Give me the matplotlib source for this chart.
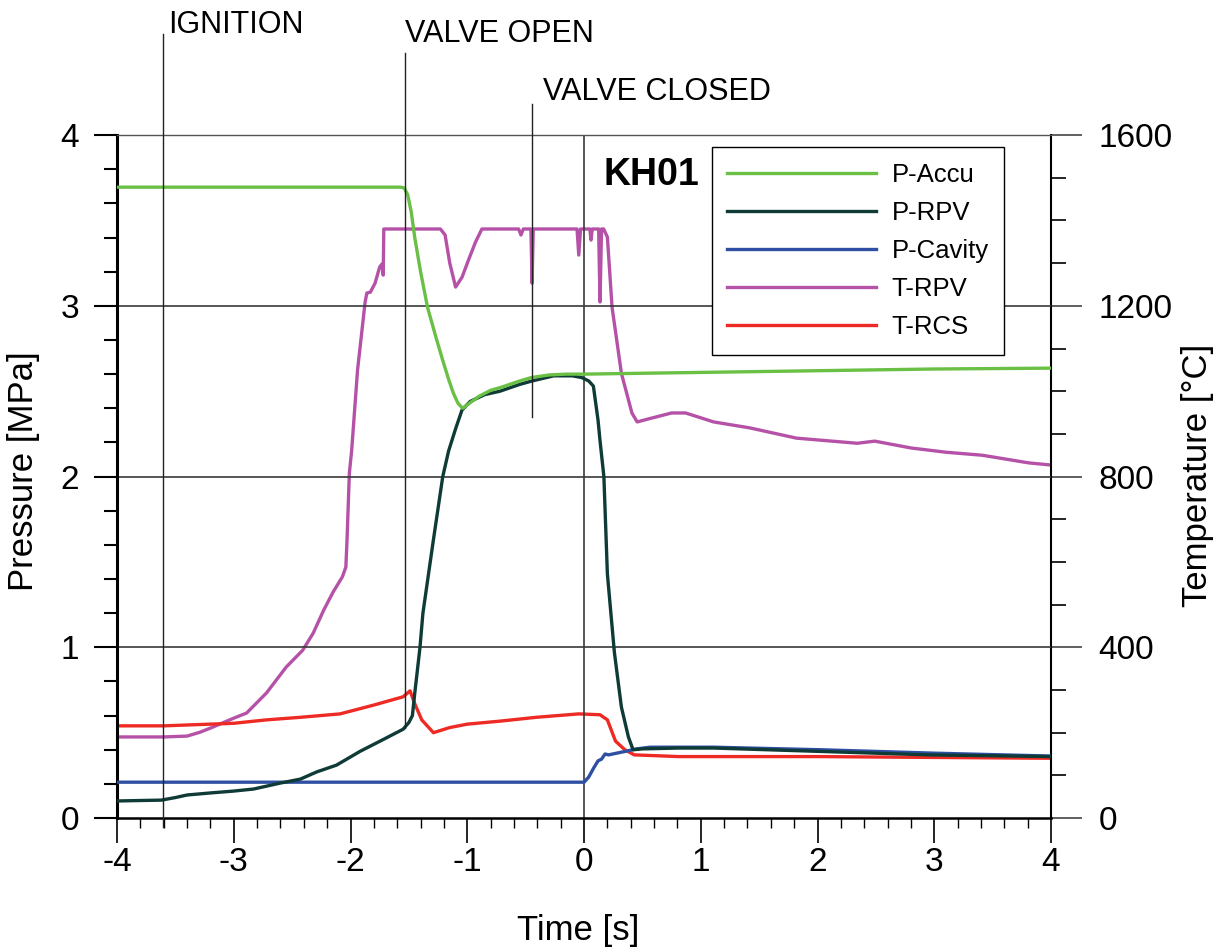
#!/usr/bin/env python3
"""KH01 test run: pressures and temperatures around valve opening."""
import matplotlib
matplotlib.use("Agg")
import matplotlib.pyplot as plt
from matplotlib.ticker import MultipleLocator

plt.rcParams["font.family"] = "Liberation Sans"
plt.rcParams["axes.unicode_minus"] = False

# --- measured traces (time in s, pressure in MPa, temperature in degC) ---
t_accu = [-4.0, -1.57, -1.54, -1.51, -1.48, -1.45, -1.40, -1.34, -1.27, -1.21,
          -1.16, -1.12, -1.08, -1.04, -0.98, -0.90, -0.80, -0.70, -0.55, -0.45,
          -0.30, -0.15, 0.0, 1.0, 2.0, 3.0, 4.0]
p_accu = [3.695, 3.695, 3.69, 3.65, 3.55, 3.40, 3.20, 2.99, 2.82, 2.68,
          2.57, 2.49, 2.43, 2.40, 2.43, 2.47, 2.505, 2.525, 2.56, 2.58,
          2.595, 2.60, 2.60, 2.61, 2.62, 2.63, 2.635]

t_rpv = [-4.0, -3.62, -3.50, -3.40, -3.20, -3.00, -2.83, -2.60, -2.43, -2.29,
         -2.12, -1.92, -1.72, -1.55, -1.50, -1.47, -1.45, -1.405, -1.38, -1.29,
         -1.21, -1.16, -1.10, -1.045, -0.975, -0.85, -0.72, -0.55, -0.445, -0.26,
         -0.10, -0.02, 0.04, 0.08, 0.12, 0.137, 0.17, 0.20, 0.26, 0.32,
         0.38, 0.42, 0.50, 0.81, 1.11, 2.03, 2.95, 4.0]
p_rpv = [0.10, 0.105, 0.12, 0.135, 0.147, 0.158, 0.17, 0.205, 0.228, 0.27,
         0.31, 0.39, 0.46, 0.52, 0.56, 0.60, 0.73, 1.00, 1.20, 1.63,
         2.00, 2.15, 2.28, 2.39, 2.44, 2.48, 2.50, 2.54, 2.56, 2.59,
         2.59, 2.58, 2.56, 2.53, 2.33, 2.21, 2.00, 1.43, 0.97, 0.65,
         0.475, 0.40, 0.405, 0.41, 0.41, 0.39, 0.37, 0.36]

t_cav = [-4.0, 0.0, 0.04, 0.08, 0.12, 0.15, 0.18, 0.21, 0.28, 0.35,
         0.45, 0.565, 1.11, 2.03, 3.0, 4.0]
p_cav = [0.21, 0.21, 0.24, 0.29, 0.335, 0.345, 0.375, 0.37, 0.38, 0.39,
         0.405, 0.415, 0.415, 0.40, 0.38, 0.363]

t_trpv = [-4.0, -3.6, -3.4, -3.29, -3.18, -3.0, -2.89, -2.72, -2.55, -2.41,
          -2.32, -2.23, -2.15, -2.07, -2.04, -2.03, -2.01, -1.99, -1.94, -1.875,
          -1.86, -1.83, -1.79, -1.75, -1.73, -1.72, -1.715, -1.23, -1.19, -1.15,
          -1.10, -1.045, -0.99, -0.93, -0.875, -0.56, -0.54, -0.52, -0.455, -0.445,
          -0.435, -0.06, -0.045, -0.03, 0.05, 0.06, 0.07, 0.125, 0.137, 0.15,
          0.168, 0.20, 0.24, 0.32, 0.41, 0.455, 0.565, 0.75, 0.87, 1.11,
          1.42, 1.82, 2.34, 2.49, 2.80, 3.1, 3.41, 3.81, 4.0]
T_trpv = [190, 190, 192, 201, 213, 234, 246, 293, 354, 393,
          433, 487, 529, 565, 588, 651, 808, 862, 1049, 1209,
          1230, 1232, 1253, 1291, 1298, 1272, 1380, 1380, 1366, 1300,
          1244, 1267, 1307, 1349, 1380, 1380, 1366, 1380, 1380, 1253,
          1380, 1380, 1319, 1380, 1380, 1354, 1380, 1380, 1209, 1380,
          1380, 1361, 1197, 1042, 949, 928, 936, 949, 949, 928,
          914, 890, 878, 883, 867, 857, 850, 832, 827]

t_trcs = [-3.97, -3.6, -3.0, -2.72, -2.43, -2.09, -1.81, -1.55, -1.49, -1.45,
          -1.39, -1.29, -1.15, -1.0, -0.72, -0.41, -0.045, 0.137, 0.2, 0.27,
          0.35, 0.43, 0.81, 2.0, 3.0, 4.0]
T_trcs = [216, 216, 222, 230, 236, 244, 264, 284, 298, 268,
          230, 200, 212, 220, 227, 236, 244, 242, 230, 180,
          160, 148, 144, 144, 142, 140]

events = ["IGNITION", "VALVE OPEN", "VALVE CLOSED"]
event_times = [-3.61, -1.53, -0.445]

fig = plt.figure(figsize=(12.24, 9.5), dpi=100)
ax = fig.add_axes([0.0956, 0.1389, 0.7631, 0.7189])
ax2 = ax.twinx()
# pressures drawn over temperatures
ax.set_zorder(ax2.get_zorder() + 1)
ax.patch.set_visible(False)

ax.set_xlim(-4, 4)
ax.set_ylim(0, 4)
ax2.set_ylim(0, 1600)

for y in (1, 2, 3):
    ax.axhline(y, color="#3a3a3a", lw=1.2, zorder=1)
ax.axvline(0, color="#3a3a3a", lw=1.2, zorder=1)

lw = 2.4
l_trpv, = ax2.plot(t_trpv, T_trpv, color="#b552a8", lw=lw, label="T-RPV")
l_trcs, = ax2.plot(t_trcs, T_trcs, color="#ee2a24", lw=lw, label="T-RCS")
l_cav, = ax.plot(t_cav, p_cav, color="#2f4fa2", lw=lw, label="P-Cavity", zorder=3)
l_rpv, = ax.plot(t_rpv, p_rpv, color="#0e3b36", lw=lw, label="P-RPV", zorder=4)
l_accu, = ax.plot(t_accu, p_accu, color="#6abf45", lw=lw, label="P-Accu", zorder=5)

# spines
ax.spines["right"].set_visible(False)
for s in ("left", "top", "bottom"):
    ax2.spines[s].set_visible(False)
ax.spines["left"].set_linewidth(2.2)
ax.spines["bottom"].set_linewidth(1.8)
ax.spines["top"].set_linewidth(1.0)
ax.spines["top"].set_color("#555555")
ax2.spines["right"].set_linewidth(1.5)

# ticks
ax.xaxis.set_major_locator(MultipleLocator(1))
ax.xaxis.set_minor_locator(MultipleLocator(0.2))
ax.yaxis.set_major_locator(MultipleLocator(1))
ax.yaxis.set_minor_locator(MultipleLocator(0.2))
ax2.yaxis.set_major_locator(MultipleLocator(400))
ax2.yaxis.set_minor_locator(MultipleLocator(100))

ax.tick_params(axis="y", which="major", direction="out", length=16.5, width=1.5,
               pad=11, labelsize=24)
ax.tick_params(axis="y", which="minor", direction="out", length=9.4, width=1.5)
ax.tick_params(axis="x", which="major", direction="out", length=18, width=1.2,
               pad=3, labelsize=24)
ax.tick_params(axis="x", which="minor", direction="out", length=7.2, width=1.0)
ax2.tick_params(axis="y", which="major", direction="out", length=22, width=1.2,
                pad=12, labelsize=24, color="#444444")
ax2.tick_params(axis="y", which="minor", direction="out", length=11, width=1.2)

ax.set_xlabel("Time [s]", fontsize=25, va="center")
ax.xaxis.set_label_coords(0.4936, -0.164)
ax.set_ylabel("Pressure [MPa]", fontsize=25, va="center")
ax.yaxis.set_label_coords(-0.1006, 0.508)
ax2.set_ylabel("Temperature [°C]", fontsize=25, va="center")
ax2.yaxis.set_label_coords(1.1563, 0.502)

# event markers above the plot
line_spans = [(-0.05, 4.59), (0.53, 4.48), (2.35, 4.18)]
text_pos = [(-3.563, 4.597), (-1.533, 4.545), (-0.351, 4.205)]
for name, t, (y0, y1), (tx, ty) in zip(events, event_times, line_spans, text_pos):
    ax.plot([t, t], [y0, y1], color="#222222", lw=1.0, clip_on=False, zorder=6)
    ax.text(tx, ty, name, fontsize=22, ha="left", va="baseline", clip_on=False)

ax.text(0.171, 3.707, "KH01", fontsize=27, fontweight="bold", va="baseline")

handles = [l_accu, l_rpv, l_cav, l_trpv, l_trcs]
leg = ax.legend(handles, [h.get_label() for h in handles], loc="upper left",
                bbox_to_anchor=(0.637, 0.982), borderaxespad=0, fontsize=18.5,
                handlelength=5.8, handletextpad=0.6, labelspacing=0.55,
                borderpad=0.6, fancybox=False, edgecolor="black", framealpha=1)
leg.get_frame().set_linewidth(1.0)
leg.set_zorder(10)

fig.savefig("out.png", dpi=100)
